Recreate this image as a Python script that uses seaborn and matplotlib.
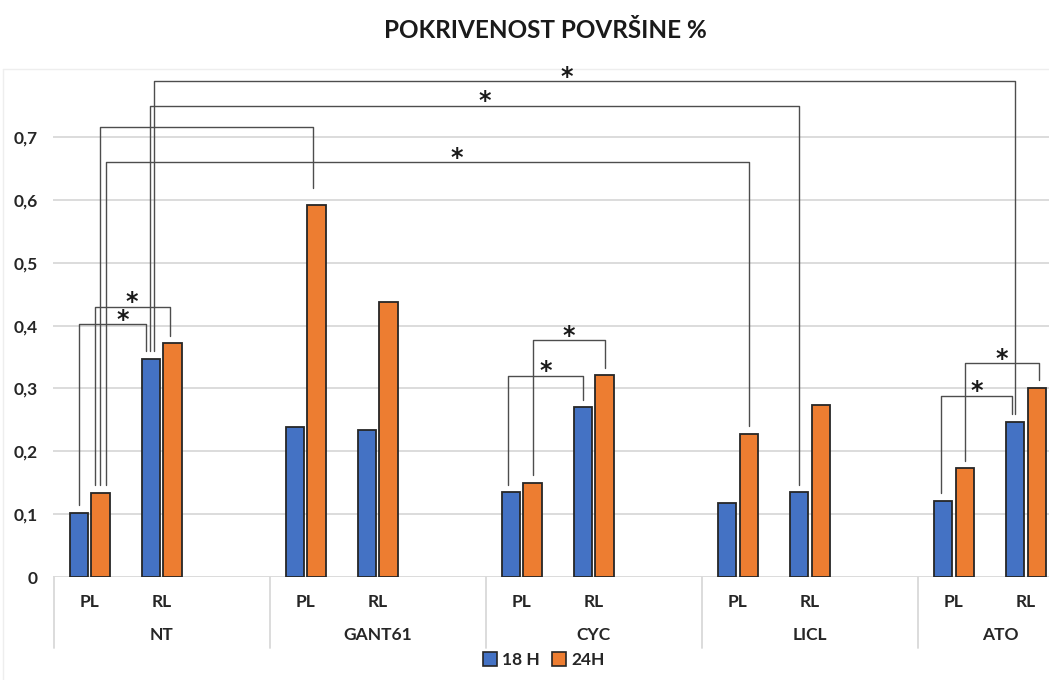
import numpy as np
import pandas as pd
import matplotlib
matplotlib.use("Agg")
import matplotlib.pyplot as plt
from matplotlib.patches import Patch
from matplotlib.lines import Line2D
import seaborn as sns

sns.set_style("white")
plt.rcParams['font.family'] = ['Lato', 'DejaVu Sans']

# data
groups = ["NT", "GANT61", "CYC", "LICL", "ATO"]
subcats = ["PL", "RL"]
series = ["18 H", "24H"]
vals_18h = [0.102, 0.347, 0.239, 0.234, 0.135, 0.270, 0.118, 0.135, 0.121, 0.247]
vals_24h = [0.134, 0.372, 0.592, 0.437, 0.150, 0.321, 0.228, 0.274, 0.173, 0.301]
colors = ["#4472C4", "#ED7D31"]

# significance brackets: (bar a, series a, shift a, bar b, series b, shift b, height, star shift, extra gap b)
brackets = [
    (0, 0, 0.00, 1, 0, -0.07, 0.402, 0.14, 0.0),
    (0, 1, -0.08, 1, 1, -0.04, 0.430, 0.00, 0.0),
    (0, 1, -0.01, 2, 1, -0.05, 0.716, None, 0.015),
    (0, 1, 0.07, 6, 1, 0.00, 0.660, 0.41, 0.0),
    (1, 0, -0.01, 7, 0, 0.00, 0.750, 0.14, 0.0),
    (1, 0, 0.04, 9, 0, 0.00, 0.789, -0.24, 0.0),
    (4, 0, -0.04, 5, 0, 0.00, 0.320, 0.00, 0.0),
    (4, 1, 0.00, 5, 1, 0.00, 0.377, 0.00, 0.0),
    (8, 0, -0.03, 9, 0, -0.05, 0.288, 0.00, 0.0),
    (8, 1, 0.00, 9, 1, 0.03, 0.340, 0.00, 0.0),
]

pos = [g * 3 + s for g in range(len(groups)) for s in range(len(subcats))]
df = pd.DataFrame({
    "pos": pos * 2,
    "value": vals_18h + vals_24h,
    "series": [series[0]] * len(pos) + [series[1]] * len(pos),
})

W, H = 1049, 680
fig = plt.figure(figsize=(W / 100, H / 100), dpi=100)

# faint chart-area border, drawn under the axes
fig.add_artist(Line2D([3 / W, 3 / W], [1 - 69 / H, 0], transform=fig.transFigure,
                      color="#eeeeee", lw=1, zorder=-5))
fig.add_artist(Line2D([3 / W, 1], [1 - 69 / H, 1 - 69 / H], transform=fig.transFigure,
                      color="#eeeeee", lw=1, zorder=-5))

ax = fig.add_axes([53 / W, 1 - 577 / H, 996 / W, 515.5 / H])
ax.patch.set_alpha(0)

sns.barplot(data=df, x="pos", y="value", hue="series", native_scale=True,
            width=0.6, gap=0.15, palette=colors, saturation=1, edgecolor="#262626",
            linewidth=1.3, errorbar=None, legend=False, ax=ax, zorder=3)

xmax = 13.32
ax.set_xlim(-0.51, xmax)
ax.set_ylim(0, 0.82)
yt = np.round(np.arange(0, 0.71, 0.1), 1)
ax.set_yticks(yt)
ax.set_yticklabels([("%g" % v).replace(".", ",") for v in yt],
                   fontsize=12.5, fontweight="bold", color="#262626")
ax.tick_params(axis="y", length=0, pad=11)
ax.set_xticks([])
ax.set_xlabel("")
ax.set_ylabel("")
for s in ax.spines.values():
    s.set_visible(False)
for v in yt:
    ax.axhline(v, color="#d9d9d9", lw=1.3, zorder=0)

# category axis (two levels)
tr = ax.get_xaxis_transform()
for i, p in enumerate(pos):
    ax.text(p, -0.0485, subcats[i % 2], transform=tr, ha="center", va="center",
            fontsize=12.5, fontweight="bold", color="#262626")
for g, name in enumerate(groups):
    left = 3 * g - 0.5
    right = min(3 * g + 2.5, 13.8)
    ax.text((left + right) / 2, -0.1125, name, transform=tr, ha="center", va="center",
            fontsize=12.5, fontweight="bold", color="#262626")
    ax.add_line(Line2D([left, left], [0, -0.138], transform=tr, color="#d9d9d9",
                       lw=1.3, clip_on=False))


def bar_x(i, s):
    return pos[i] + (-0.15 if s == 0 else 0.15)


def bar_v(i, s):
    return vals_18h[i] if s == 0 else vals_24h[i]


for ia, sa, da, ib, sb, db, top, star, extra in brackets:
    xa = bar_x(ia, sa) + da
    xb = bar_x(ib, sb) + db
    ya = bar_v(ia, sa) + 0.012
    yb = bar_v(ib, sb) + 0.012 + extra
    ax.plot([xa, xa, xb, xb], [ya, top, top, yb], color="#4d4d4d", lw=1.0,
            zorder=4, clip_on=False)
    if star is not None:
        ax.text((xa + xb) / 2 + star, top - 0.004, "*", ha="center", va="baseline",
                fontsize=17, fontweight="bold", family="DejaVu Sans", color="#1a1a1a")

fig.text(545 / W, 1 - 31 / H, "POKRIVENOST POVRŠINE %", ha="center", va="center",
         fontsize=17.5, fontweight="bold", color="#1a1a1a")

handles = [Patch(facecolor=c, edgecolor="#262626", lw=1.2) for c in colors]
fig.legend(handles, series, loc="center", bbox_to_anchor=(544 / W, 1 - 660 / H),
           ncol=2, frameon=False, handlelength=0.8, handleheight=0.8,
           handletextpad=0.3, columnspacing=0.7,
           prop={"size": 12.5, "weight": "bold"})

fig.savefig("out.png", dpi=100)
